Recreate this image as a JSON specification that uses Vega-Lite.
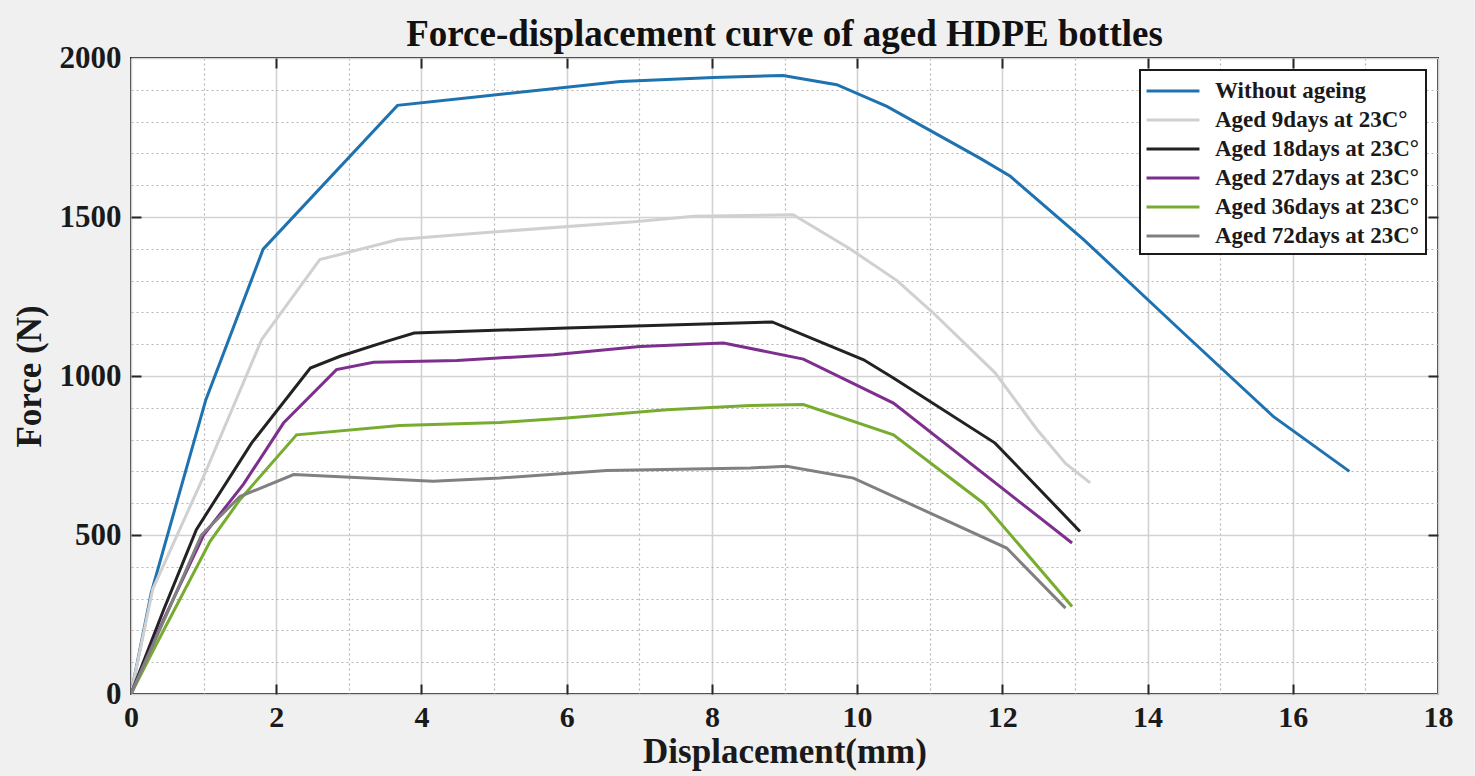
{
  "$schema": "https://vega.github.io/schema/vega-lite/v6.json",
  "autosize": {"type": "none"},
  "width": 1307,
  "height": 636,
  "padding": {"left": 131, "top": 58, "right": 37, "bottom": 82},
  "background": "#f0f0f0",
  "config": {
    "view": {"fill": "white", "stroke": "#262626", "strokeWidth": 2},
    "font": "Liberation Serif"
  },
  "title": {
    "text": "Force-displacement curve of aged HDPE bottles",
    "font": "Liberation Serif",
    "fontSize": 37,
    "fontWeight": "bold",
    "color": "#111",
    "anchor": "middle",
    "offset": -12
  },
  "data": {
    "values": [
      {"series": "Without ageing", "d": 0, "f": 0},
      {"series": "Without ageing", "d": 0.28, "f": 320},
      {"series": "Without ageing", "d": 1.03, "f": 925},
      {"series": "Without ageing", "d": 1.82, "f": 1399},
      {"series": "Without ageing", "d": 3.67, "f": 1851},
      {"series": "Without ageing", "d": 4.81, "f": 1879},
      {"series": "Without ageing", "d": 6.74, "f": 1926},
      {"series": "Without ageing", "d": 8.02, "f": 1939},
      {"series": "Without ageing", "d": 8.98, "f": 1945},
      {"series": "Without ageing", "d": 9.72, "f": 1916},
      {"series": "Without ageing", "d": 10.41, "f": 1848},
      {"series": "Without ageing", "d": 11.69, "f": 1685},
      {"series": "Without ageing", "d": 12.11, "f": 1628},
      {"series": "Without ageing", "d": 13.12, "f": 1429},
      {"series": "Without ageing", "d": 14.49, "f": 1136},
      {"series": "Without ageing", "d": 15.73, "f": 873},
      {"series": "Without ageing", "d": 16.78, "f": 700},

      {"series": "Aged 9days at 23C°", "d": 0, "f": 0},
      {"series": "Aged 9days at 23C°", "d": 0.3, "f": 330},
      {"series": "Aged 9days at 23C°", "d": 1.0, "f": 684},
      {"series": "Aged 9days at 23C°", "d": 1.8, "f": 1115},
      {"series": "Aged 9days at 23C°", "d": 2.6, "f": 1366},
      {"series": "Aged 9days at 23C°", "d": 3.68, "f": 1429},
      {"series": "Aged 9days at 23C°", "d": 4.81, "f": 1450},
      {"series": "Aged 9days at 23C°", "d": 6.97, "f": 1486},
      {"series": "Aged 9days at 23C°", "d": 7.75, "f": 1502},
      {"series": "Aged 9days at 23C°", "d": 9.12, "f": 1507},
      {"series": "Aged 9days at 23C°", "d": 9.9, "f": 1400},
      {"series": "Aged 9days at 23C°", "d": 10.55, "f": 1300},
      {"series": "Aged 9days at 23C°", "d": 11.05, "f": 1198},
      {"series": "Aged 9days at 23C°", "d": 11.9, "f": 1010},
      {"series": "Aged 9days at 23C°", "d": 12.48, "f": 831},
      {"series": "Aged 9days at 23C°", "d": 12.87, "f": 725},
      {"series": "Aged 9days at 23C°", "d": 13.21, "f": 664},

      {"series": "Aged 18days at 23C°", "d": 0, "f": 0},
      {"series": "Aged 18days at 23C°", "d": 0.45, "f": 265},
      {"series": "Aged 18days at 23C°", "d": 0.9, "f": 517},
      {"series": "Aged 18days at 23C°", "d": 1.66, "f": 789},
      {"series": "Aged 18days at 23C°", "d": 2.47, "f": 1025},
      {"series": "Aged 18days at 23C°", "d": 2.88, "f": 1062},
      {"series": "Aged 18days at 23C°", "d": 3.52, "f": 1109},
      {"series": "Aged 18days at 23C°", "d": 3.9, "f": 1135},
      {"series": "Aged 18days at 23C°", "d": 6.0, "f": 1151},
      {"series": "Aged 18days at 23C°", "d": 8.83, "f": 1170},
      {"series": "Aged 18days at 23C°", "d": 10.09, "f": 1051},
      {"series": "Aged 18days at 23C°", "d": 10.5, "f": 994},
      {"series": "Aged 18days at 23C°", "d": 11.9, "f": 789},
      {"series": "Aged 18days at 23C°", "d": 13.07, "f": 511},

      {"series": "Aged 27days at 23C°", "d": 0, "f": 0},
      {"series": "Aged 27days at 23C°", "d": 0.45, "f": 235},
      {"series": "Aged 27days at 23C°", "d": 1.0, "f": 500},
      {"series": "Aged 27days at 23C°", "d": 1.55, "f": 660},
      {"series": "Aged 27days at 23C°", "d": 2.1, "f": 852},
      {"series": "Aged 27days at 23C°", "d": 2.83, "f": 1020},
      {"series": "Aged 27days at 23C°", "d": 3.34, "f": 1043},
      {"series": "Aged 27days at 23C°", "d": 4.49, "f": 1049},
      {"series": "Aged 27days at 23C°", "d": 5.82, "f": 1067},
      {"series": "Aged 27days at 23C°", "d": 7.01, "f": 1093},
      {"series": "Aged 27days at 23C°", "d": 8.16, "f": 1104},
      {"series": "Aged 27days at 23C°", "d": 9.26, "f": 1053},
      {"series": "Aged 27days at 23C°", "d": 10.5, "f": 915},
      {"series": "Aged 27days at 23C°", "d": 12.96, "f": 475},

      {"series": "Aged 36days at 23C°", "d": 0, "f": 0},
      {"series": "Aged 36days at 23C°", "d": 0.31, "f": 139},
      {"series": "Aged 36days at 23C°", "d": 1.09, "f": 480},
      {"series": "Aged 36days at 23C°", "d": 1.5, "f": 611},
      {"series": "Aged 36days at 23C°", "d": 2.28, "f": 815},
      {"series": "Aged 36days at 23C°", "d": 3.7, "f": 844},
      {"series": "Aged 36days at 23C°", "d": 5.08, "f": 854},
      {"series": "Aged 36days at 23C°", "d": 6.0, "f": 868},
      {"series": "Aged 36days at 23C°", "d": 7.38, "f": 894},
      {"series": "Aged 36days at 23C°", "d": 8.53, "f": 907},
      {"series": "Aged 36days at 23C°", "d": 9.26, "f": 910},
      {"series": "Aged 36days at 23C°", "d": 10.5, "f": 815},
      {"series": "Aged 36days at 23C°", "d": 11.74, "f": 600},
      {"series": "Aged 36days at 23C°", "d": 12.96, "f": 275},

      {"series": "Aged 72days at 23C°", "d": 0, "f": 0},
      {"series": "Aged 72days at 23C°", "d": 0.5, "f": 255},
      {"series": "Aged 72days at 23C°", "d": 0.97, "f": 500},
      {"series": "Aged 72days at 23C°", "d": 1.5, "f": 621},
      {"series": "Aged 72days at 23C°", "d": 2.24, "f": 690},
      {"series": "Aged 72days at 23C°", "d": 4.16, "f": 669},
      {"series": "Aged 72days at 23C°", "d": 5.08, "f": 679},
      {"series": "Aged 72days at 23C°", "d": 6.55, "f": 703},
      {"series": "Aged 72days at 23C°", "d": 8.53, "f": 711},
      {"series": "Aged 72days at 23C°", "d": 9.03, "f": 716},
      {"series": "Aged 72days at 23C°", "d": 9.95, "f": 679},
      {"series": "Aged 72days at 23C°", "d": 12.06, "f": 459},
      {"series": "Aged 72days at 23C°", "d": 12.87, "f": 270}
    ]
  },
  "resolve": {"axis": {"x": "independent", "y": "independent"}},
  "layer": [
    {
      "mark": {"type": "line", "strokeWidth": 3, "clip": true},
      "encoding": {
        "x": {
          "field": "d",
          "type": "quantitative",
          "scale": {"domain": [0, 18], "nice": false, "zero": false},
          "axis": {
            "orient": "bottom",
            "values": [0,0.5,1,1.5,2,2.5,3,3.5,4,4.5,5,5.5,6,6.5,7,7.5,8,8.5,9,9.5,10,10.5,11,11.5,12,12.5,13,13.5,14,14.5,15,15.5,16,16.5,17,17.5,18],
            "format": "d",
            "labelExpr": "datum.value % 2 === 0 ? datum.label : ''",
            "labelFont": "Liberation Serif",
            "labelFontSize": 30,
            "labelFontWeight": "bold",
            "labelColor": "#1a1a1a",
            "labelFlush": false,
            "labelOverlap": false,
            "labelBound": false,
            "labelPadding": 18,
            "domain": false,
            "tickSize": -10,
            "tickWidth": 2,
            "tickColor": "#262626",
            "tickOpacity": {"condition": {"test": "datum.value % 2 === 0 && datum.value > 0 && datum.value < 18", "value": 1}, "value": 0},
            "grid": true,
            "gridColor": {"condition": {"test": "datum.value % 2 === 0", "value": "#d2d2d2"}, "value": "#b4b4b4"},
            "gridDash": {"condition": {"test": "datum.value % 2 === 0", "value": []}, "value": [2, 3]},
            "gridWidth": {"condition": {"test": "datum.value % 2 === 0", "value": 1.6}, "value": 1.2},
            "title": "Displacement(mm)",
            "titleFont": "Liberation Serif",
            "titleFontSize": 35,
            "titleFontWeight": "bold",
            "titleColor": "#1a1a1a",
            "titlePadding": 2
          }
        },
        "y": {
          "field": "f",
          "type": "quantitative",
          "scale": {"domain": [0, 2000], "nice": false},
          "axis": {
            "orient": "left",
            "values": [0,100,200,300,400,500,600,700,800,900,1000,1100,1200,1300,1400,1500,1600,1700,1800,1900,2000],
            "labelExpr": "datum.value % 500 === 0 ? datum.label : ''",
            "format": "d",
            "labelFont": "Liberation Serif",
            "labelFontSize": 31,
            "labelFontWeight": "bold",
            "labelColor": "#1a1a1a",
            "labelFlush": false,
            "labelOverlap": false,
            "labelBound": false,
            "labelPadding": 20,
            "domain": false,
            "tickSize": -10,
            "tickWidth": 2,
            "tickColor": "#262626",
            "tickOpacity": {"condition": {"test": "datum.value % 500 === 0 && datum.value > 0 && datum.value < 2000", "value": 1}, "value": 0},
            "grid": true,
            "gridColor": {"condition": {"test": "datum.value % 500 === 0", "value": "#d2d2d2"}, "value": "#b4b4b4"},
            "gridDash": {"condition": {"test": "datum.value % 500 === 0", "value": []}, "value": [2, 3]},
            "gridWidth": {"condition": {"test": "datum.value % 500 === 0", "value": 1.6}, "value": 1.2},
            "title": "Force (N)",
            "titleFont": "Liberation Serif",
            "titleFontSize": 35,
            "titleFontWeight": "bold",
            "titleColor": "#1a1a1a",
            "titlePadding": 12
          }
        },
        "color": {
          "field": "series",
          "type": "nominal",
          "scale": {
            "domain": ["Without ageing", "Aged 9days at 23C°", "Aged 18days at 23C°", "Aged 27days at 23C°", "Aged 36days at 23C°", "Aged 72days at 23C°"],
            "range": ["#1f72b0", "#d0d0d0", "#222222", "#7e2f8e", "#77ac30", "#808080"]
          },
          "legend": {
            "orient": "none",
            "legendX": 1009,
            "legendY": 12,
            "title": null,
            "fillColor": "white",
            "strokeColor": "#1a1a1a",
            "padding": 6,
            "symbolType": "M-2,0L2,0",
            "symbolSize": 700,
            "symbolStrokeWidth": 3,
            "symbolOffset": 12,
            "labelOffset": 27,
            "labelFont": "Liberation Serif",
            "labelFontSize": 23,
            "labelFontWeight": "bold",
            "labelColor": "#1a1a1a",
            "labelLimit": 400,
            "rowPadding": 2,
            "encode": {"legend": {"update": {"strokeWidth": {"value": 2}}}}
          }
        }
      }
    },
    {
      "mark": {"type": "line", "opacity": 0},
      "encoding": {
        "x": {
          "field": "d",
          "type": "quantitative",
          "scale": {"domain": [0, 18], "nice": false, "zero": false},
          "axis": {
            "orient": "top",
            "values": [2,4,6,8,10,12,14,16],
            "labels": false,
            "grid": false,
            "domain": false,
            "tickSize": -10,
            "tickWidth": 2,
            "tickColor": "#262626",
            "title": null
          }
        },
        "y": {
          "field": "f",
          "type": "quantitative",
          "scale": {"domain": [0, 2000], "nice": false},
          "axis": {
            "orient": "right",
            "values": [500,1000,1500],
            "labels": false,
            "grid": false,
            "domain": false,
            "tickSize": -10,
            "tickWidth": 2,
            "tickColor": "#262626",
            "title": null
          }
        },
        "detail": {"field": "series", "type": "nominal"}
      }
    }
  ]
}
